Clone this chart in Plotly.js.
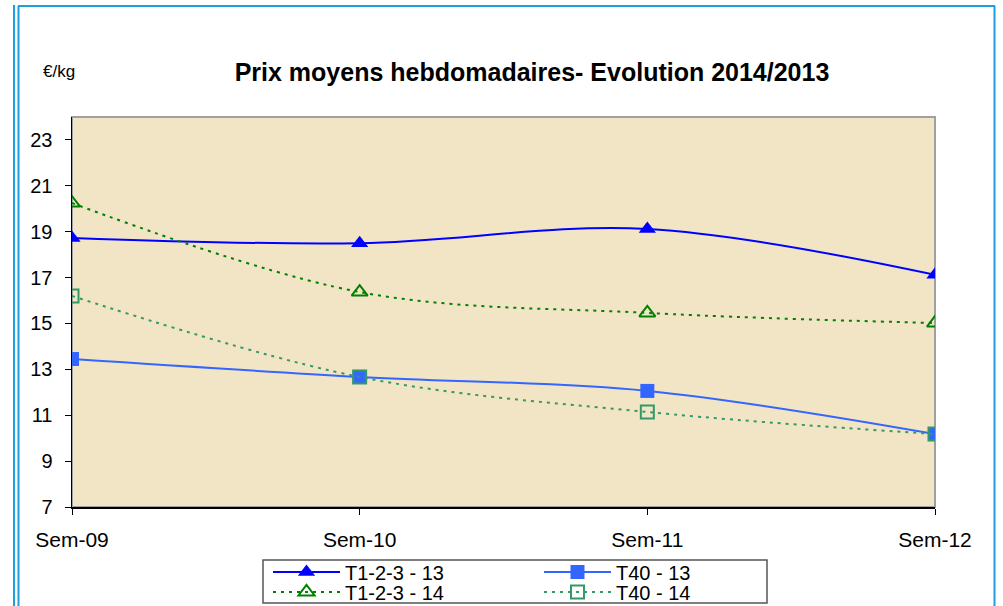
<!DOCTYPE html>
<html>
<head>
<meta charset="utf-8">
<script src="https://cdn.plot.ly/plotly-3.0.1.min.js"></script>
<style>
html,body{margin:0;padding:0;background:#fff;}
#chart{width:1003px;height:606px;}
</style>
</head>
<body>
<div id="chart"></div>
<script>
const weeks = ["Sem-09", "Sem-10", "Sem-11", "Sem-12"];
const t123_13 = [18.73, 18.5, 19.12, 17.12];
const t40_13 = [13.45, 12.67, 12.06, 10.18];
const t123_14 = [20.25, 16.37, 15.46, 15.02];
const t40_14 = [16.2, 12.67, 11.14, 10.18];
const yTicks = [7, 9, 11, 13, 15, 17, 19, 21, 23];

const W = 1003, H = 606;
const M = {l: 72, r: 68, t: 117, b: 99, autoexpand: false};
const pw = W - M.l - M.r, ph = H - M.t - M.b;
function px(x) { return (x - M.l) / pw; }
function py(y) { return (H - M.b - y) / ph; }

const traces = [
  {x: weeks, y: t123_13, name: "T1-2-3 - 13", mode: "lines+markers", legend: "legend",
   line: {color: "#0000FF", width: 2, shape: "spline", smoothing: 1},
   marker: {symbol: "triangle-up", size: 15, color: "#0000FF"}},
  {x: weeks, y: t123_14, name: "T1-2-3 - 14", mode: "lines+markers", legend: "legend2",
   line: {color: "#008000", width: 2, dash: "3px,5px", shape: "spline", smoothing: 1},
   marker: {symbol: "triangle-up-open", size: 14, color: "#008000", line: {width: 2}}},
  {x: weeks, y: t40_13, name: "T40 - 13", mode: "lines+markers", legend: "legend3",
   line: {color: "#3366FF", width: 2, shape: "spline", smoothing: 1},
   marker: {symbol: "square", size: 14, color: "#3366FF"}},
  {x: weeks, y: t40_14, name: "T40 - 14", mode: "lines+markers", legend: "legend4",
   line: {color: "#339966", width: 2, dash: "3px,5px", shape: "spline", smoothing: 1},
   marker: {symbol: "square-open", size: 13, color: "#339966", line: {width: 2}}}
];

function leg(xPix, yPix) {
  return {x: px(xPix), y: py(yPix), xanchor: "left", yanchor: "middle", orientation: "v",
          bgcolor: "rgba(0,0,0,0)", borderwidth: 0, tracegroupgap: 0,
          font: {size: 20, color: "#000"}, itemwidth: 67};
}

const frameColor = "#1BA1E2";
const layout = {
  width: W, height: H,
  margin: M,
  paper_bgcolor: "#FFFFFF",
  plot_bgcolor: "#F2E5C6",
  font: {family: "Liberation Sans, Arial, sans-serif", color: "#000", size: 20},
  title: {text: "<b>Prix moyens hebdomadaires- Evolution 2014/2013</b>",
          x: px(532), xref: "paper", xanchor: "center",
          y: 1 - 72 / H, yanchor: "middle", yref: "container",
          font: {size: 25, color: "#000"}},
  xaxis: {type: "category", range: [0, 3], showgrid: false, zeroline: false,
          showline: true, linecolor: "#000", linewidth: 1.5,
          ticks: "outside", ticklen: 6, tickcolor: "#000", tickfont: {size: 21},
          ticklabelstandoff: 7},
  yaxis: {range: [7, 24], tickvals: yTicks, showgrid: false, zeroline: false,
          showline: true, linecolor: "#000", linewidth: 1.5,
          ticks: "outside", ticklen: 6, tickcolor: "#000", tickfont: {size: 20},
          ticklabelstandoff: 8},
  yaxis2: {range: [7, 24], tickvals: yTicks, overlaying: "y", showticklabels: false,
           showgrid: false, zeroline: false, ticks: "inside", ticklen: 6, tickcolor: "#000"},
  showlegend: true,
  legend: leg(268, 572),
  legend2: leg(268, 592),
  legend3: leg(539, 572),
  legend4: leg(539, 592),
  annotations: [
    {text: "€/kg", xref: "paper", yref: "paper", x: px(41), y: py(72),
     xanchor: "left", yanchor: "middle", showarrow: false, font: {size: 17}}
  ],
  shapes: [
    {type: "rect", xref: "paper", yref: "paper", x0: 0, x1: 1, y0: 0, y1: 1,
     line: {color: "#A0A0A0", width: 2}, layer: "below"},
    {type: "rect", xref: "paper", yref: "paper", x0: px(263), x1: px(767), y0: py(560), y1: py(603),
     line: {color: "#555", width: 1.5}, fillcolor: "#FFFFFF", layer: "below"},
    {type: "line", xref: "paper", yref: "paper", x0: px(14), x1: px(14), y0: py(5), y1: py(610),
     line: {color: frameColor, width: 2}},
    {type: "line", xref: "paper", yref: "paper", x0: px(18.5), x1: px(18.5), y0: py(6), y1: py(610),
     line: {color: frameColor, width: 2}},
    {type: "line", xref: "paper", yref: "paper", x0: px(18), x1: px(995), y0: py(6), y1: py(6),
     line: {color: frameColor, width: 2}},
    {type: "line", xref: "paper", yref: "paper", x0: px(994.5), x1: px(994.5), y0: py(6), y1: py(610),
     line: {color: frameColor, width: 2}}
  ]
};

Plotly.newPlot("chart", traces, layout, {displayModeBar: false, staticPlot: true});
</script>
</body>
</html>
